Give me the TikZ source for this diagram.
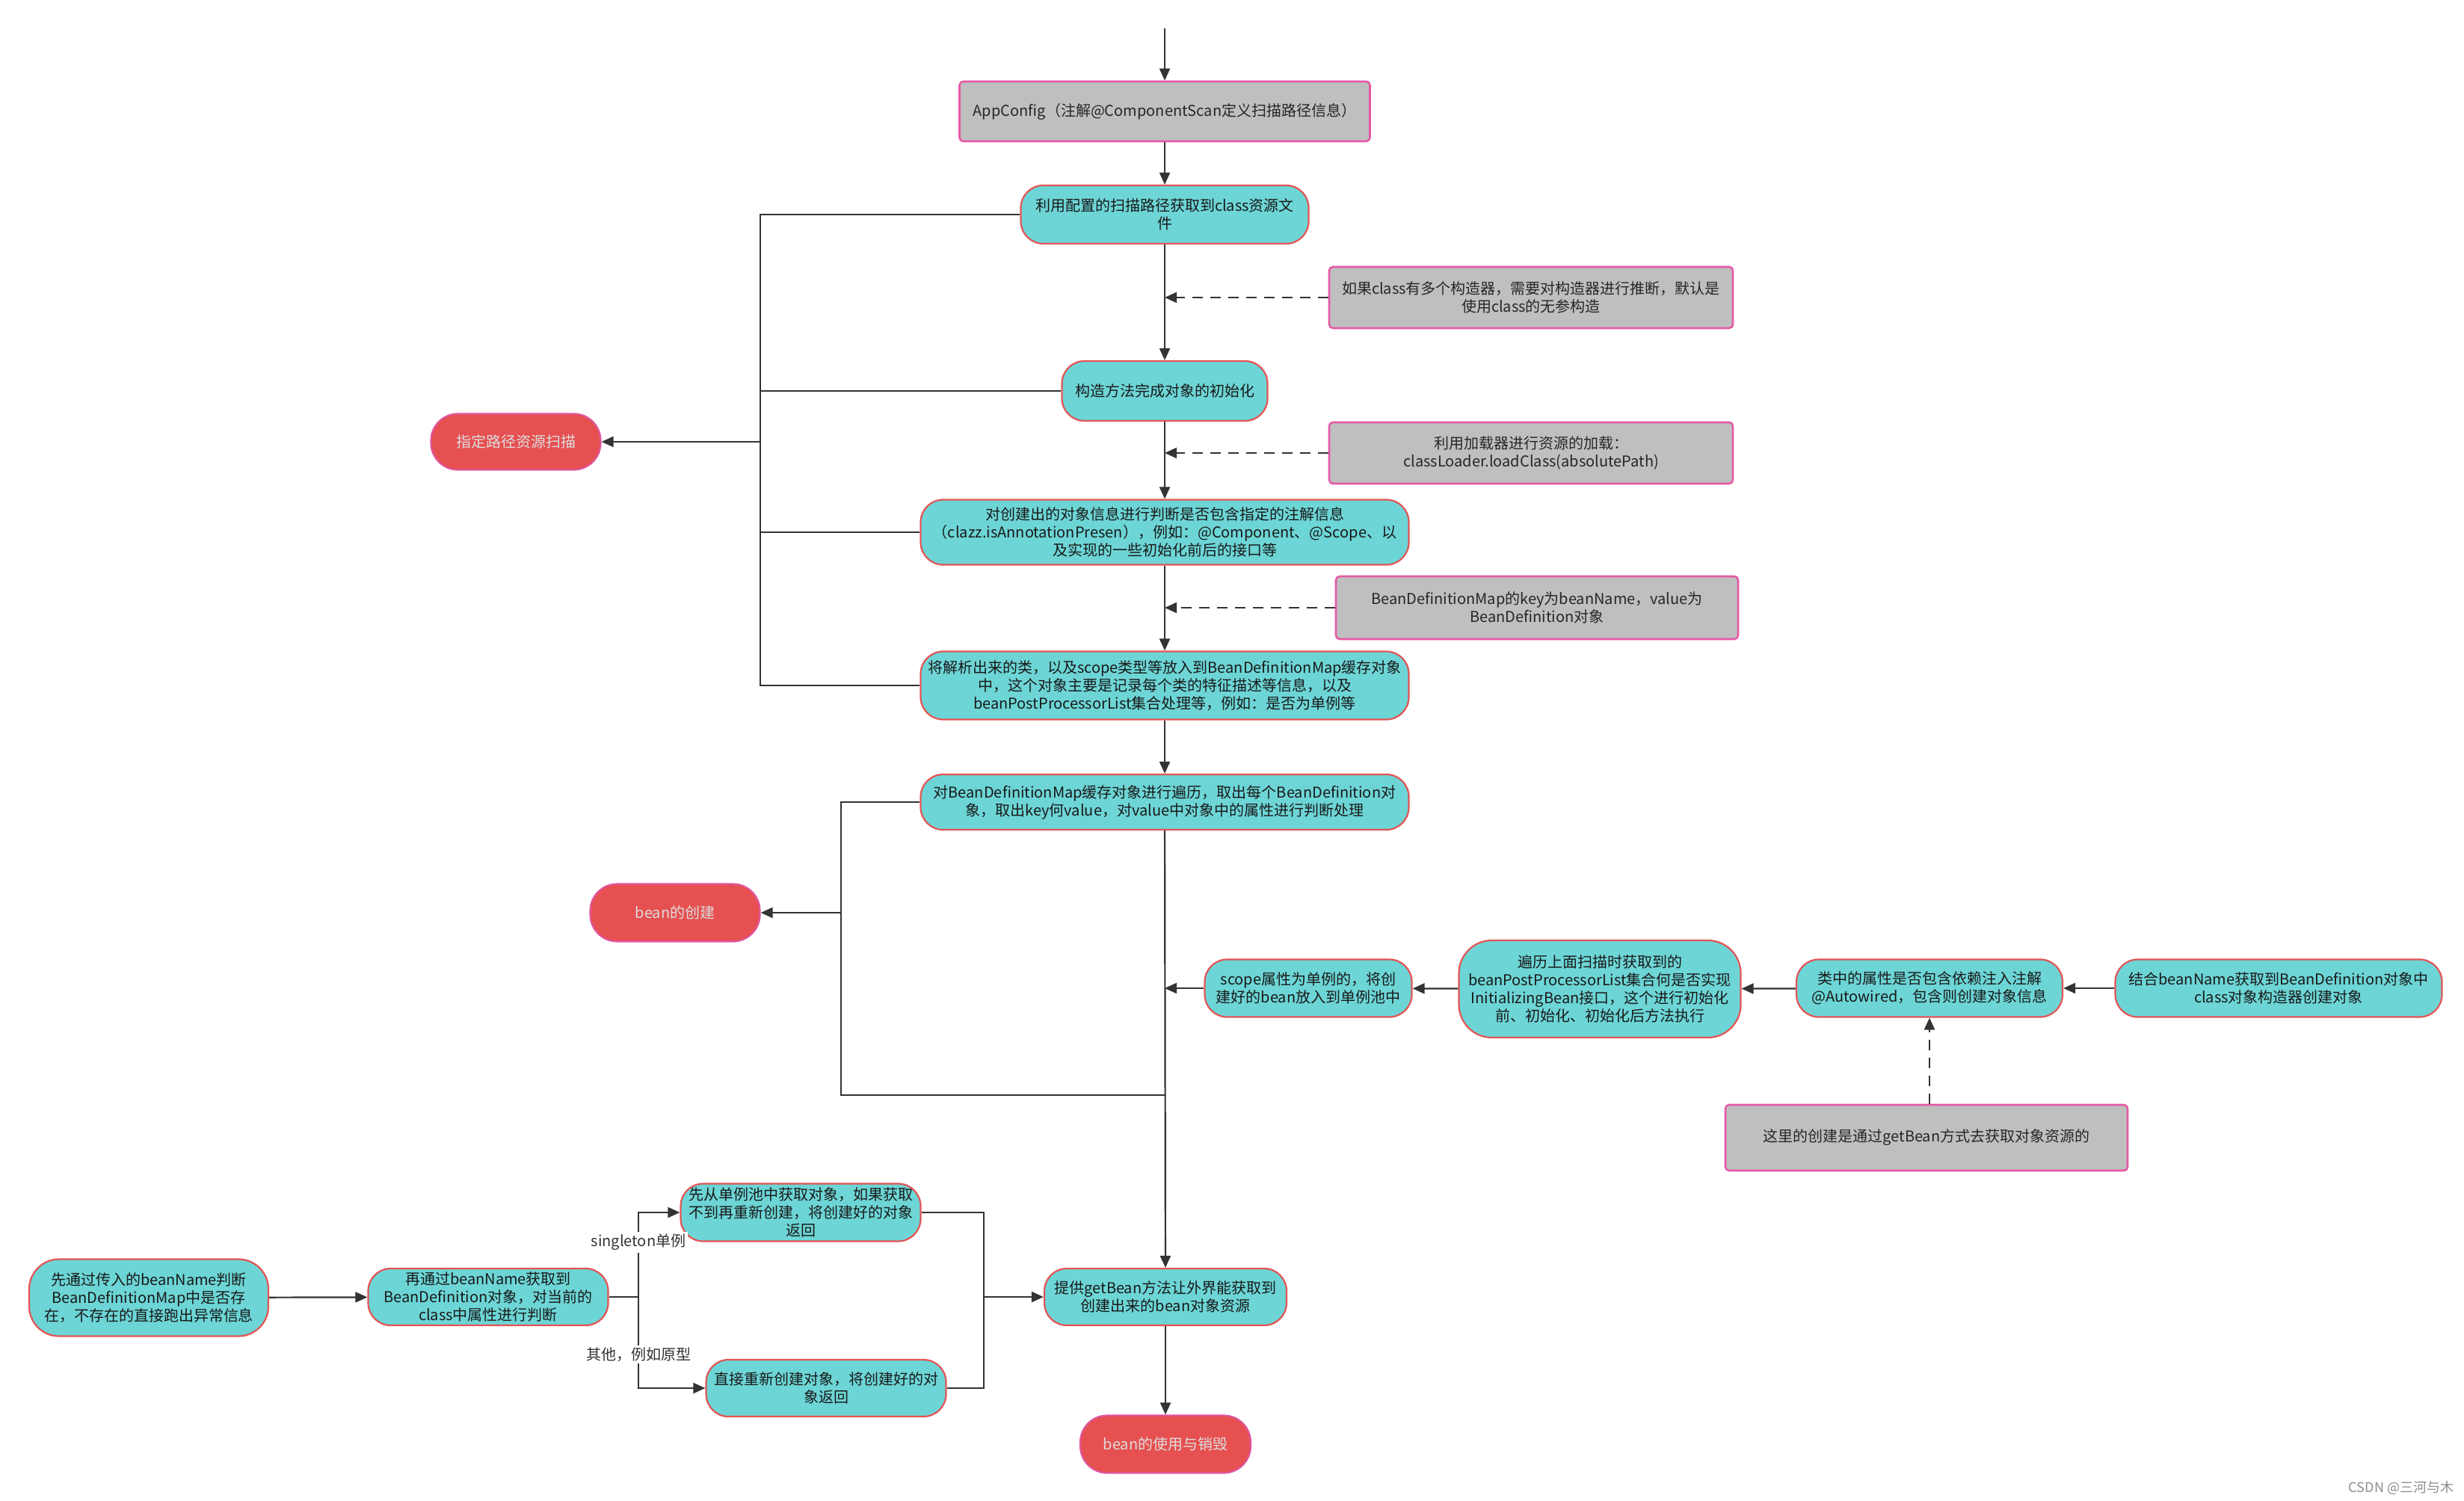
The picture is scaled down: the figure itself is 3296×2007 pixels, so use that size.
\documentclass[tikz,border=0pt]{standalone}
\usepackage{fontspec}
\newfontfamily\cjk{Noto Sans CJK SC}
\usetikzlibrary{arrows.meta}
\definecolor{cyfill}{HTML}{6DD5D6}
\definecolor{cyline}{HTML}{E45454}
\definecolor{grfill}{HTML}{BFBFBF}
\definecolor{grline}{HTML}{E65AA6}
\definecolor{rdfill}{HTML}{E65050}
\definecolor{rdline}{HTML}{E0559E}
\definecolor{rdtext}{HTML}{DDDDDD}
\definecolor{lc}{HTML}{333333}
\begin{document}
\begin{tikzpicture}[x=0.5pt,y=-0.5pt,
  txt/.style={font=\cjk\fontsize{10}{12}\selectfont, align=center, inner sep=0pt},
  sz/.style 2 args={minimum width=#1*0.5pt, minimum height=#2*0.5pt},
  cbox/.style={txt, draw=cyline, fill=cyfill, line width=1.1pt, rounded corners=15pt, text=black!90},
  gbox/.style={txt, draw=grline, fill=grfill, line width=1.3pt, rounded corners=2.5pt, text=black!85},
  rbox/.style={txt, draw=rdline, fill=rdfill, line width=1.1pt, rounded corners=18pt, text=rdtext},
  ln/.style={draw=lc, line width=1.1pt},
  arr/.style={ln, -{Triangle[length=8pt,width=7pt]}},
  darr/.style={arr, dash pattern=on 7pt off 5pt},
  lbl/.style={txt, fill=white, text=black!80, inner sep=1.5pt}
]
\useasboundingbox (0,0) rectangle (3296,2007);

% main column
\coordinate (top) at (1558,38);
\node[gbox, sz={549}{80}] (app) at (1558,149) {AppConfig（注解@ComponentScan定义扫描路径信息）};
\node[cbox, sz={385}{78}] (n1) at (1558,287) {利用配置的扫描路径获取到class资源文\\件};
\node[gbox, sz={540}{82}] (g1) at (2048,398) {如果class有多个构造器，需要对构造器进行推断，默认是\\使用class的无参构造};
\node[cbox, sz={275}{80}] (n2) at (1558,523) {构造方法完成对象的初始化};
\node[gbox, sz={540}{82}] (g2) at (2048,606) {利用加载器进行资源的加载：\\classLoader.loadClass(absolutePath)};
\node[cbox, sz={653}{87}] (n3) at (1558,712) {对创建出的对象信息进行判断是否包含指定的注解信息\\（clazz.isAnnotationPresen），例如：@Component、@Scope、以\\及实现的一些初始化前后的接口等};
\node[gbox, sz={538}{84}] (g3) at (2056,813) {BeanDefinitionMap的key为beanName，value为\\BeanDefinition对象};
\node[cbox, sz={653}{91}] (n4) at (1558,917) {将解析出来的类，以及scope类型等放入到BeanDefinitionMap缓存对象\\中，这个对象主要是记录每个类的特征描述等信息，以及\\beanPostProcessorList集合处理等，例如：是否为单例等};
\node[cbox, sz={653}{74}] (n5) at (1558,1073) {对BeanDefinitionMap缓存对象进行遍历，取出每个BeanDefinition对\\象，取出key何value，对value中对象中的属性进行判断处理};

% red nodes
\node[rbox, sz={227}{75}] (red1) at (690,591) {指定路径资源扫描};
\node[rbox, sz={227}{77}] (red2) at (903,1221) {bean的创建};

% right row
\node[cbox, sz={277}{77}] (r1) at (1750,1322) {scope属性为单例的，将创\\建好的bean放入到单例池中};
\node[cbox, sz={377}{130}, rounded corners=22pt] (r2) at (2140,1323) {遍历上面扫描时获取到的\\beanPostProcessorList集合何是否实现\\InitializingBean接口，这个进行初始化\\前、初始化、初始化后方法执行};
\node[cbox, sz={356}{77}] (r3) at (2581,1322) {类中的属性是否包含依赖注入注解\\@Autowired，包含则创建对象信息};
\node[cbox, sz={437}{77}] (r4) at (3048,1322) {结合beanName获取到BeanDefinition对象中\\class对象构造器创建对象};
\node[gbox, sz={538}{88}] (g4) at (2577,1522) {这里的创建是通过getBean方式去获取对象资源的};

% bottom
\node[cbox, sz={320}{103}, rounded corners=20pt] (l1) at (199,1736) {先通过传入的beanName判断\\BeanDefinitionMap中是否存\\在，不存在的直接跑出异常信息};
\node[cbox, sz={321}{76}] (l2) at (653,1735) {再通过beanName获取到\\BeanDefinition对象，对当前的\\class中属性进行判断};
\node[cbox, sz={321}{77}] (l3) at (1071,1622) {先从单例池中获取对象，如果获取\\不到再重新创建，将创建好的对象\\返回};
\node[cbox, sz={321}{76}] (l4) at (1105,1857) {直接重新创建对象，将创建好的对\\象返回};
\node[cbox, sz={324}{76}] (gb) at (1559,1735) {提供getBean方法让外界能获取到\\创建出来的bean对象资源};
\node[rbox, sz={228}{77}] (use) at (1559,1932) {bean的使用与销毁};

% main column arrows
\draw[arr] (top) -- (app);
\draw[arr] (app) -- (n1);
\draw[arr] (n1) -- (n2);
\draw[arr] (n2) -- (n3);
\draw[arr] (n3) -- (n4);
\draw[arr] (n4) -- (n5);
\draw[arr] (n5) -- (gb);
\draw[arr] (gb) -- (use);

% dashed side notes
\draw[darr] (g1.west) -- (g1.west -| n1.south);
\draw[darr] (g2.west) -- (g2.west -| n1.south);
\draw[darr] (g3.west) -- (g3.west -| n1.south);

% left bracket 1
\coordinate (b1) at (1017,591);
\draw[ln] (n1.west) -- (n1.west -| b1) -- (n4.west -| b1) -- (n4.west);
\draw[ln] (n2.west) -- (n2.west -| b1);
\draw[ln] (n3.west) -- (n3.west -| b1);
\draw[arr] (b1) -- (red1);

% left bracket 2
\coordinate (b2) at (1125,1221);
\coordinate (j2) at (1558,1465);
\draw[ln] (n5.west) -- (n5.west -| b2) -- (b2 |- j2) -- (j2);
\draw[arr] (b2) -- (red2);

% right row arrows
\draw[arr] (r4) -- (r3);
\draw[arr] (r3) -- (r2);
\draw[arr] (r2) -- (r1);
\draw[arr] (r1.west) -- (r1.west -| n5.south);
\draw[darr] (r3.south |- g4.north) -- (r3.south);

% bottom-left flow
\draw[arr] (l1) -- (l2);
\coordinate (s) at (854,1735);
\draw[ln] (l2.east) -- (s);
\draw[arr] (s) |- (l3.west);
\draw[arr] (s) |- (l4.west);
\node[lbl] (lab1) at (854,1662) {singleton单例};
\node[lbl] (lab2) at (854,1812) {其他，例如原型};
\coordinate (m) at (1316,1735);
\draw[ln] (l3.east) -| (m);
\draw[ln] (l4.east) -| (m);
\draw[arr] (m) -- (gb);

% watermark
\node[txt, font=\cjk\fontsize{9}{10}\selectfont, text=black!45] (wm) at (3212,1990) {CSDN @三河与木};
\end{tikzpicture}
\end{document}
